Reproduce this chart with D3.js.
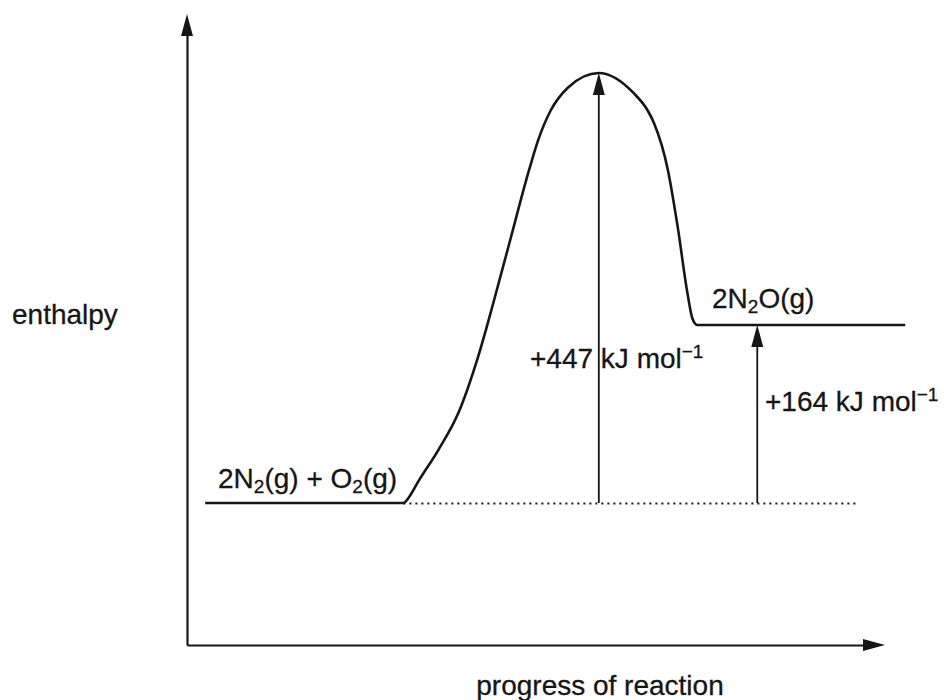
<!DOCTYPE html>
<html>
<head>
  <meta charset="utf-8">
  <title>enthalpy profile</title>
  <script src="https://cdn.jsdelivr.net/npm/d3@7"></script>
  <style>
    body { margin: 0; background: #fff; }
    text { font-family: "Liberation Sans", Arial, Helvetica, sans-serif; fill: #161616; stroke: #161616; stroke-width: 0.3; }
    .axis path { stroke: #161616; stroke-width: 2.2; }
  </style>
</head>
<body>
  <svg id="chart"></svg>
  <script>
    // profile curve: progress (0-100) vs enthalpy as drawn (kJ/mol, not to scale)
    var progress = [2.6, 31, 31.8, 33.1, 36, 38.9, 41.7, 44, 46.4, 49, 50.3, 52.1, 54.6, 59, 64, 66, 66.9, 68.9, 70.3, 71.7, 72.4, 73.1, 102.9];
    var enthalpy = [0, 0, 6, 22, 55, 94, 152, 211, 276, 346, 377, 408, 432, 447, 426, 408, 395, 346, 287, 218, 192, 185, 185];

    var changes = [447, 185];           // arrow tops as drawn
    var changeLabels = ['+447', '+164'];
    var arrowAt = [59, 81.7];           // progress positions of the arrows
    var dottedEnd = 95.9;

    var width = 944, height = 700;

    var x = d3.scaleLinear().domain([0, 100]).range([187, 885]);
    var y = d3.scaleLinear().domain([0, 447]).range([503, 73]);

    var svg = d3.select('#chart')
      .attr('width', width)
      .attr('height', height);

    svg.append('rect').attr('width', width).attr('height', height).attr('fill', '#fff');

    // axes (no ticks), arrowheads added separately
    var yAxisScale = y.copy().domain([y.invert(645), y.invert(34)]).range([645, 34]);
    var xAxisScale = x.copy().domain([0, x.invert(866)]).range([187, 866]);

    svg.append('g')
      .attr('class', 'axis')
      .attr('transform', 'translate(187,0)')
      .call(d3.axisLeft(yAxisScale).tickValues([]).tickSizeOuter(0));

    svg.append('g')
      .attr('class', 'axis')
      .attr('transform', 'translate(0,645)')
      .call(d3.axisBottom(xAxisScale).tickValues([]).tickSizeOuter(0));

    function head(tx, ty, dir, len, w) {
      var p = dir === 'up'
        ? [[tx, ty], [tx - w / 2, ty + len], [tx + w / 2, ty + len]]
        : [[tx, ty], [tx - len, ty - w / 2], [tx - len, ty + w / 2]];
      svg.append('path')
        .attr('d', 'M' + p.join('L') + 'Z')
        .attr('fill', '#161616');
    }
    head(187, 14, 'up', 22, 12);
    head(885, 645, 'right', 22, 12);

    // dotted baseline
    svg.append('line')
      .attr('x1', x(31)).attr('x2', x(dottedEnd))
      .attr('y1', y(0) + 0.5).attr('y2', y(0) + 0.5)
      .attr('stroke', '#161616')
      .attr('stroke-width', 2)
      .attr('stroke-dasharray', '2 4');

    // profile
    var line = d3.line()
      .x(function (d) { return x(d[0]); })
      .y(function (d) { return y(d[1]); })
      .curve(d3.curveMonotoneX);

    svg.append('path')
      .datum(d3.zip(progress, enthalpy))
      .attr('d', line)
      .attr('fill', 'none')
      .attr('stroke', '#161616')
      .attr('stroke-width', 2.6)
      .attr('stroke-linejoin', 'round');

    // enthalpy change arrows
    arrowAt.forEach(function (p, i) {
      svg.append('line')
        .attr('x1', x(p)).attr('x2', x(p))
        .attr('y1', y(0)).attr('y2', y(changes[i]) + 10)
        .attr('stroke', '#161616')
        .attr('stroke-width', 1.8);
      head(x(p), y(changes[i]), 'up', 22, 12);
    });

    // labels
    function chem(sel, parts) {
      var shift = 0;
      parts.forEach(function (pt) {
        var t = sel.append('tspan').text(pt[0]);
        var target = pt[1] === 'sub' ? 5 : pt[1] === 'sup' ? -10 : 0;
        t.attr('dy', target - shift);
        if (pt[1] !== 'n') t.attr('font-size', 19);
        shift = target;
      });
    }

    var fs = 28;

    svg.append('text').attr('x', 12).attr('y', 324).attr('font-size', fs).text('enthalpy');

    svg.append('text').attr('x', 600).attr('y', 695).attr('font-size', fs)
      .attr('text-anchor', 'middle').text('progress of reaction');

    chem(svg.append('text').attr('x', 218).attr('y', 488).attr('font-size', fs),
      [['2N', 'n'], ['2', 'sub'], ['(g) + O', 'n'], ['2', 'sub'], ['(g)', 'n']]);

    chem(svg.append('text').attr('x', 712).attr('y', 308).attr('font-size', fs),
      [['2N', 'n'], ['2', 'sub'], ['O(g)', 'n']]);

    chem(svg.append('text').attr('x', 530).attr('y', 368).attr('font-size', fs),
      [[changeLabels[0] + ' kJ mol', 'n'], ['\u22121', 'sup']]);

    chem(svg.append('text').attr('x', 765).attr('y', 411).attr('font-size', fs),
      [[changeLabels[1] + ' kJ mol', 'n'], ['\u22121', 'sup']]);
  </script>
</body>
</html>
